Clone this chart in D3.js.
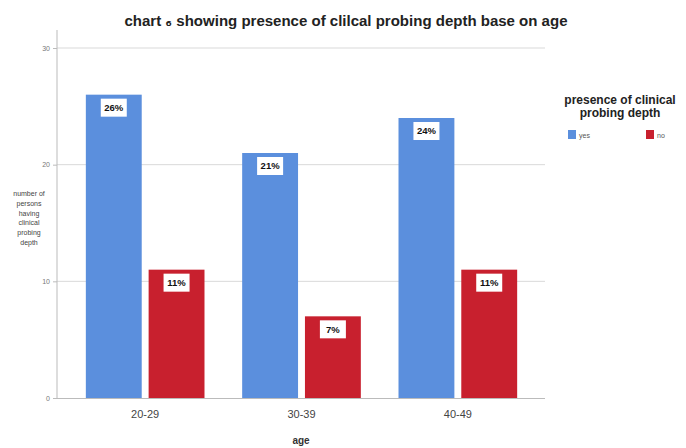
<!DOCTYPE html>
<html><head><meta charset="utf-8">
<script src="https://cdn.jsdelivr.net/npm/d3@7"></script>
<style>body{margin:0;background:#fff}svg{display:block}</style>
</head><body>
<script>
const categories = ["20-29","30-39","40-49"];
const seriesNames = ["yes","no"];
const yesValues = [26,21,24];
const noValues = [11,7,11];
const yesLabels = ["26%","21%","24%"];
const noLabels = ["11%","7%","11%"];
const yTicks = [0,10,20,30];
const colors = {yes:"#5b8fdd", no:"#c8202e"};

const W=686,H=448;
const svg=d3.select("body").append("svg").attr("width",W).attr("height",H);
const x=d3.scaleBand().domain(categories).range([67,536]).paddingInner(0).paddingOuter(0);
const xs=d3.scaleBand().domain(seriesNames).range([0,x.bandwidth()]).paddingInner(0.11).paddingOuter(0.3);
const y=d3.scaleLinear().domain([0,30]).range([398,48]);

// gridlines
svg.append("g").selectAll("line").data(yTicks.filter(d=>d>0)).join("line")
 .attr("x1",57).attr("x2",545).attr("y1",d=>y(d)).attr("y2",d=>y(d))
 .attr("stroke","#d9d9d9").attr("stroke-width",1);

// y axis
const yAxis=svg.append("g").attr("transform","translate(57,0)")
 .call(d3.axisLeft(y).tickValues(yTicks).tickSize(4).tickFormat(d3.format("d")));
yAxis.select(".domain").remove();
yAxis.selectAll(".tick line").attr("stroke","#bbb");
yAxis.selectAll(".tick text").attr("fill","#777").attr("font-size",7).attr("font-family","Liberation Sans, Arial");
svg.append("line").attr("x1",57).attr("x2",57).attr("y1",30).attr("y2",398).attr("stroke","#bbb");

// x axis
const xAxis=svg.append("g").attr("transform","translate(0,398)")
 .call(d3.axisBottom(x).tickSize(0).tickPadding(12));
xAxis.select(".domain").remove();
svg.append("line").attr("x1",57).attr("x2",545).attr("y1",398.5).attr("y2",398.5).attr("stroke","#bbb");
xAxis.selectAll(".tick text").attr("fill","#444").attr("font-size",11).attr("font-family","Liberation Sans, Arial");

const data=categories.map((c,i)=>({c,vals:[{s:"yes",v:yesValues[i],l:yesLabels[i]},{s:"no",v:noValues[i],l:noLabels[i]}]}));
const g=svg.append("g").selectAll("g").data(data).join("g").attr("transform",d=>`translate(${x(d.c)},0)`);
g.selectAll("rect").data(d=>d.vals).join("rect")
 .attr("x",d=>xs(d.s)).attr("width",xs.bandwidth())
 .attr("y",d=>y(d.v)).attr("height",d=>y(0)-y(d.v)).attr("fill",d=>colors[d.s]);
const lab=g.selectAll("g.lab").data(d=>d.vals).join("g").attr("class","lab")
 .attr("transform",d=>`translate(${xs(d.s)+xs.bandwidth()/2},${y(d.v)+13})`);
lab.append("rect").attr("x",-13).attr("y",-9).attr("width",26).attr("height",18).attr("fill","#fff");
lab.append("text").attr("text-anchor","middle").attr("dy","0.35em").attr("font-size",9.5).attr("font-weight","bold")
 .attr("font-family","Liberation Sans, Arial").attr("fill","#111").text(d=>d.l);

// title
svg.append("text").attr("x",346).attr("y",26).attr("text-anchor","middle").attr("font-size",14.5).attr("font-weight","bold")
 .attr("font-family","Liberation Sans, Arial").attr("fill","#222")
 .attr("textLength",443).attr("lengthAdjust","spacingAndGlyphs")
 .text("chart ₆ showing presence of clilcal probing depth base on age");

// axis titles
svg.append("text").attr("x",301).attr("y",444).attr("text-anchor","middle").attr("font-size",10).attr("font-weight","bold")
 .attr("font-family","Liberation Sans, Arial").attr("fill","#333").text("age");
const yt=["number of","persons","having","clinical","probing","depth"];
svg.append("text").attr("text-anchor","middle").attr("font-size",7).attr("font-family","Liberation Sans, Arial").attr("fill","#444")
 .selectAll("tspan").data(yt).join("tspan").attr("x",29).attr("y",(d,i)=>196+i*9.8).text(d=>d);

// legend
const lg=svg.append("g");
lg.append("text").attr("text-anchor","middle").attr("font-size",12).attr("font-weight","bold").attr("font-family","Liberation Sans, Arial").attr("fill","#222")
 .selectAll("tspan").data(["presence of clinical","probing depth"]).join("tspan").attr("x",620).attr("y",(d,i)=>104+i*12.5).text(d=>d);
const li=lg.selectAll("g.li").data(seriesNames).join("g").attr("class","li").attr("transform",(d,i)=>`translate(${568+i*78},130)`);
li.append("rect").attr("width",8).attr("height",9).attr("fill",d=>colors[d]);
li.append("text").attr("x",11).attr("y",8).attr("font-size",7).attr("font-family","Liberation Sans, Arial").attr("fill","#555").text(d=>d);
</script>
</body></html>
